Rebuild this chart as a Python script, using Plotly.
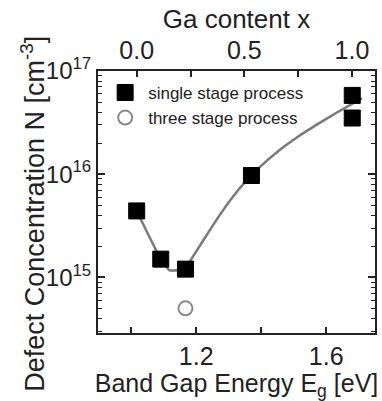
import plotly.graph_objects as go

# Measured defect concentrations (single stage process)
single_eg = [1.017, 1.091, 1.167, 1.370, 1.680, 1.680]
single_n = [4.4e15, 1.5e15, 1.2e15, 9.7e15, 5.8e16, 3.5e16]

# Three stage process
three_eg = [1.167]
three_n = [5.0e14]

# Guide-to-the-eye curve
fit_eg = [1.017, 1.091, 1.118, 1.142, 1.167, 1.179, 1.224, 1.264, 1.307, 1.353,
          1.398, 1.453, 1.514, 1.576, 1.637, 1.698, 1.710]
fit_n = [4.4e15, 1.5e15, 1.17e15, 1.17e15, 1.25e15, 1.4e15, 2.34e15, 3.66e15,
         5.71e15, 8.55e15, 1.19e16, 1.68e16, 2.32e16, 3.09e16, 4.03e16, 5.19e16,
         5.43e16]

# Ga content scale: x = 0 (CuInSe2) ... x = 1 (CuGaSe2)
eg_range = [0.898, 1.75]
eg_cis, eg_cgs = 1.017, 1.679
ga_range = [(e - eg_cis) / (eg_cgs - eg_cis) for e in eg_range]
ga_ticks = [0.0, 0.5, 1.0]
ga_minor = [0.25, 0.75]

n_major = [1e15, 1e16, 1e17]
n_labels = ["10<sup>15</sup>", "10<sup>16</sup>", "10<sup>17</sup>"]
n_minor = [m * 10 ** k for k in (14, 15, 16) for m in range(2, 10)]

FONT = "Liberation Sans, Arial, sans-serif"
INK = "#222"

fig = go.Figure()

fig.add_trace(go.Scatter(
    x=fit_eg, y=fit_n, mode="lines",
    line=dict(color="#7a7a7a", width=2.5, shape="spline", smoothing=0.3),
    showlegend=False, hoverinfo="skip"))

fig.add_trace(go.Scatter(
    x=single_eg, y=single_n, mode="markers", name="single stage process",
    marker=dict(symbol="square", size=16, color="black",
                line=dict(color="black", width=1))))

fig.add_trace(go.Scatter(
    x=three_eg, y=three_n, mode="markers", name="three stage process",
    marker=dict(symbol="circle-open", size=14, color="#8a8a8a",
                line=dict(width=2))))

# invisible trace carrying the top (Ga content) axis
fig.add_trace(go.Scatter(
    x=ga_range, y=[None, None], xaxis="x2", mode="markers",
    showlegend=False, hoverinfo="skip"))

tick_style = dict(ticks="inside", ticklen=6, tickwidth=1.5, tickcolor=INK)

fig.update_layout(
    width=382, height=401,
    margin=dict(l=98, r=5, t=71, b=68),
    paper_bgcolor="white", plot_bgcolor="white",
    font=dict(family=FONT, color=INK, size=25),
    xaxis=dict(
        range=eg_range, tickvals=[1.2, 1.6], ticktext=["1.2", "1.6"],
        minor=dict(tickvals=[1.0, 1.4], **tick_style),
        showline=True, linecolor=INK, linewidth=2, mirror=False,
        showgrid=False, zeroline=False,
        tickfont=dict(size=25),
        title=dict(text="Band Gap Energy E<sub>g</sub> [eV]",
                   font=dict(size=25), standoff=7),
        **tick_style,
    ),
    xaxis2=dict(
        overlaying="x", side="top", range=ga_range,
        tickvals=ga_ticks, ticktext=["0.0", "0.5", "1.0"],
        minor=dict(tickvals=ga_minor, **tick_style),
        showline=True, linecolor=INK, linewidth=2,
        showgrid=False, zeroline=False,
        tickfont=dict(size=25),
        title=dict(text="Ga content x", font=dict(size=26), standoff=0),
        **tick_style,
    ),
    yaxis=dict(
        type="log", range=[14.46, 17.0],
        tickvals=n_major, ticktext=n_labels,
        ticks="inside", ticklen=7, tickwidth=1.5, tickcolor=INK,
        minor=dict(tickvals=n_minor, ticks="inside", ticklen=4,
                   tickwidth=1, tickcolor=INK),
        showline=True, linecolor=INK, linewidth=2, mirror="ticks",
        showgrid=False, zeroline=False,
        tickfont=dict(size=24),
    ),
    annotations=[dict(
        text="Defect Concentration N [cm<sup>-3</sup>]",
        xref="paper", yref="paper", x=-0.235, y=0.455,
        xanchor="center", yanchor="middle", textangle=-90,
        showarrow=False, font=dict(size=27, color=INK),
    )],
    legend=dict(
        x=0.015, y=0.985, xanchor="left", yanchor="top",
        bgcolor="rgba(0,0,0,0)", font=dict(size=17, color=INK),
        tracegroupgap=0, itemwidth=36,
    ),
)

fig.write_html("out.html")
